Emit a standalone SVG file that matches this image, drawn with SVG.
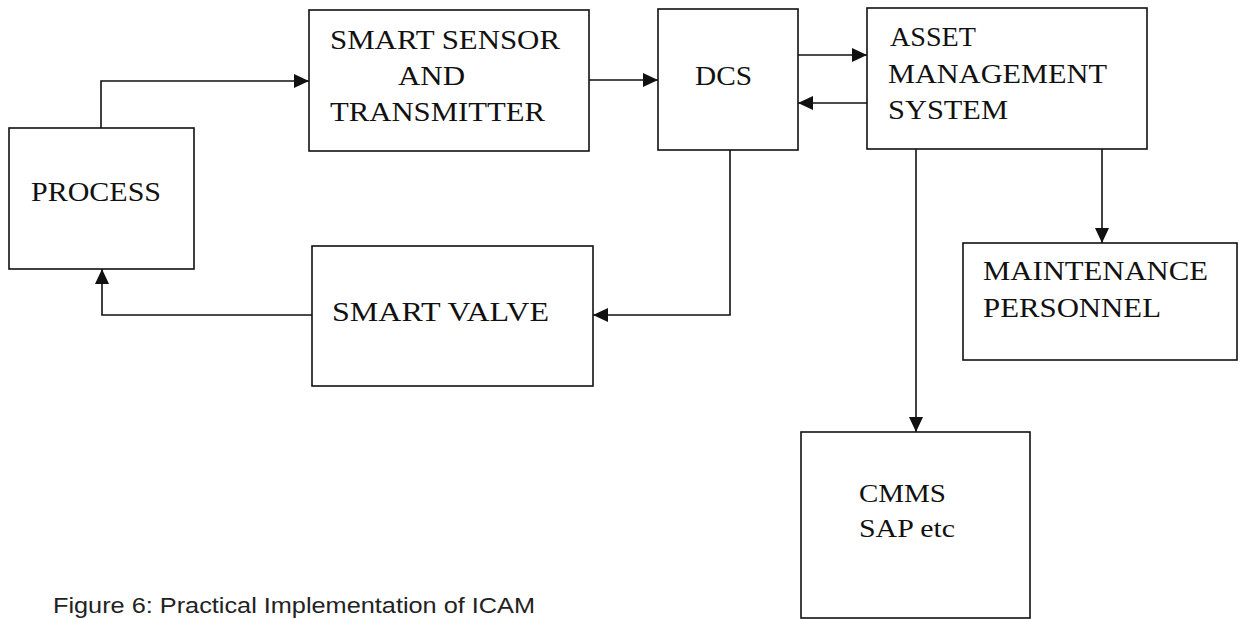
<svg xmlns="http://www.w3.org/2000/svg" width="1240" height="619" viewBox="0 0 1240 619">
<style>
.box{fill:#fff;stroke:#111;stroke-width:1.6}
.lbl{font-family:"Liberation Serif","Times New Roman",serif;font-size:27px;fill:#111}
.sm{font-size:26px}
.cap{font-family:"Liberation Sans Narrow","Liberation Sans",Arial,sans-serif;font-size:22px;fill:#222}
.con{fill:none;stroke:#111;stroke-width:1.6}
</style>
<defs>
<marker id="ah" markerUnits="userSpaceOnUse" markerWidth="16" markerHeight="14" refX="15" refY="7" orient="auto">
<path d="M0,0 L15,7 L0,14 Z" fill="#111"/>
</marker>
</defs>
<rect width="1240" height="619" fill="#fff"/>
<g id="process"><rect class="box" x="9" y="128" width="185" height="141"/><text class="lbl" x="31" y="201" textLength="130" lengthAdjust="spacingAndGlyphs">PROCESS</text></g>
<g id="sensor"><rect class="box" x="309" y="10" width="280" height="141"/>
<text class="lbl" x="330" y="49" textLength="230" lengthAdjust="spacingAndGlyphs">SMART SENSOR</text>
<text class="lbl" x="398" y="85" textLength="67" lengthAdjust="spacingAndGlyphs">AND</text>
<text class="lbl" x="330" y="121" textLength="215" lengthAdjust="spacingAndGlyphs">TRANSMITTER</text></g>
<g id="dcs"><rect class="box" x="658" y="9" width="140" height="141"/><text class="lbl" x="695" y="85" textLength="57" lengthAdjust="spacingAndGlyphs">DCS</text></g>
<g id="asset"><rect class="box" x="867" y="8" width="280" height="141"/>
<text class="lbl" x="890" y="46" textLength="86" lengthAdjust="spacingAndGlyphs">ASSET</text>
<text class="lbl" x="888" y="83" textLength="219" lengthAdjust="spacingAndGlyphs">MANAGEMENT</text>
<text class="lbl" x="888" y="119" textLength="120" lengthAdjust="spacingAndGlyphs">SYSTEM</text></g>
<g id="valve"><rect class="box" x="312" y="246" width="281" height="140"/><text class="lbl" x="332" y="321" textLength="217" lengthAdjust="spacingAndGlyphs">SMART VALVE</text></g>
<g id="maintenance"><rect class="box" x="963" y="243" width="274" height="117"/>
<text class="lbl" x="983" y="280" textLength="225" lengthAdjust="spacingAndGlyphs">MAINTENANCE</text>
<text class="lbl" x="983" y="317" textLength="178" lengthAdjust="spacingAndGlyphs">PERSONNEL</text></g>
<g id="cmms"><rect class="box" x="801" y="432" width="229" height="186"/>
<text class="lbl sm" x="859" y="502" textLength="87" lengthAdjust="spacingAndGlyphs">CMMS</text>
<text class="lbl sm" x="859" y="537" textLength="96" lengthAdjust="spacingAndGlyphs">SAP etc</text></g>
<g id="connectors">
<path class="con" d="M101,128 V81 H309" marker-end="url(#ah)"/>
<path class="con" d="M589,80 H658" marker-end="url(#ah)"/>
<path class="con" d="M798,55 H867" marker-end="url(#ah)"/>
<path class="con" d="M867,103 H798" marker-end="url(#ah)"/>
<path class="con" d="M730,150 V315 H593" marker-end="url(#ah)"/>
<path class="con" d="M312,315 H102 V269" marker-end="url(#ah)"/>
<path class="con" d="M1102,149 V243" marker-end="url(#ah)"/>
<path class="con" d="M916,149 V432" marker-end="url(#ah)"/>
</g>
<text class="cap" x="53" y="613" textLength="482" lengthAdjust="spacingAndGlyphs">Figure 6: Practical Implementation of ICAM</text>
</svg>
